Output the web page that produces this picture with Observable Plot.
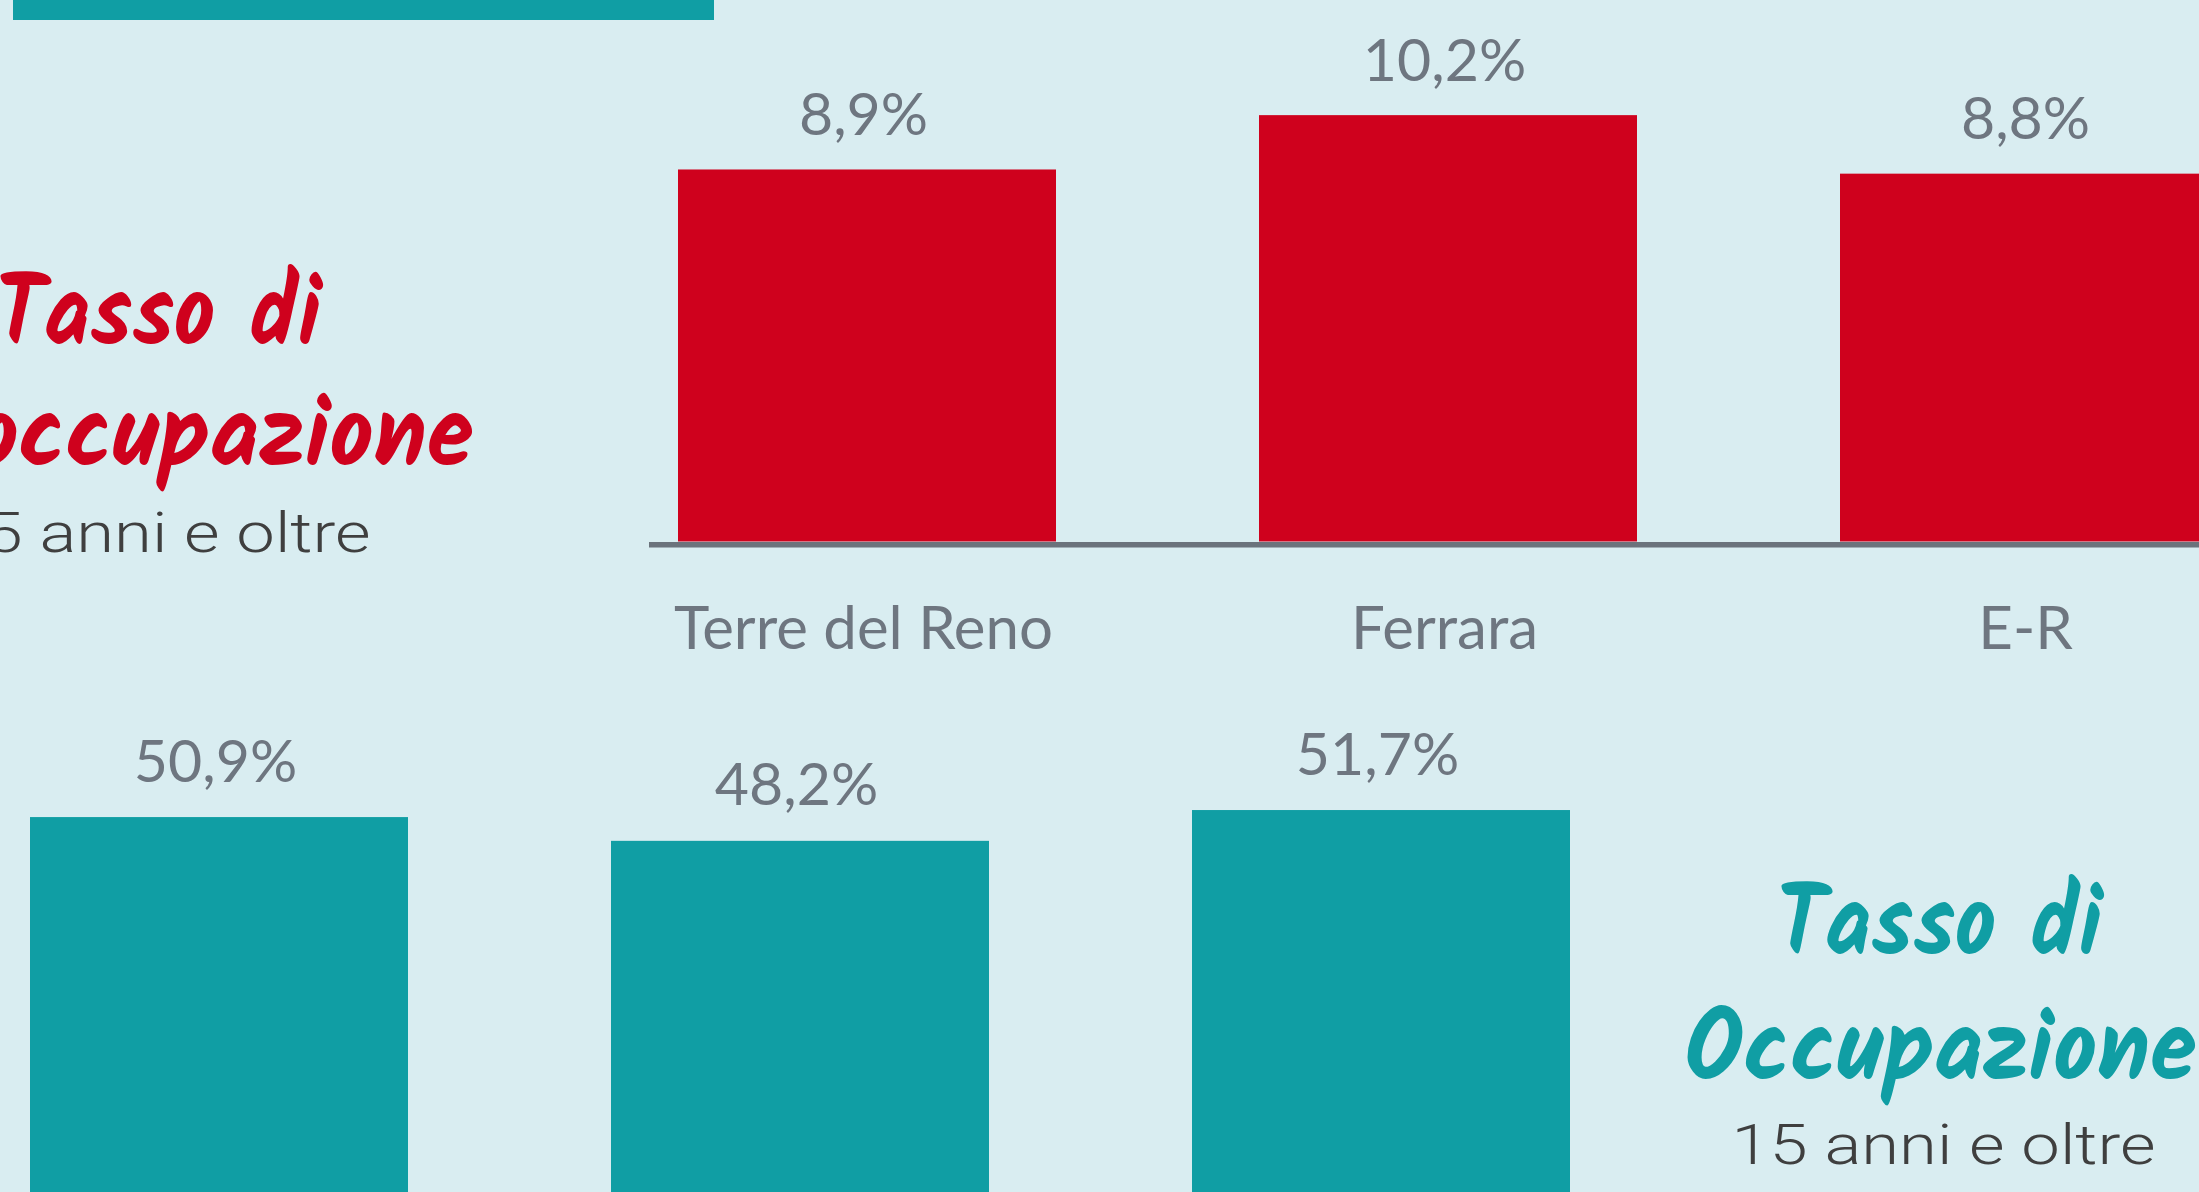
<!DOCTYPE html>
<html><head><meta charset="utf-8">
<script src="https://cdn.jsdelivr.net/npm/d3@7"></script>
<script src="https://cdn.jsdelivr.net/npm/@observablehq/plot@0.6"></script>
<style>
html,body{margin:0;padding:0;width:2199px;height:1192px;overflow:hidden;background:#d9edf1;}
#wrap{position:relative;width:2199px;height:1192px;overflow:hidden;background:#d9edf1;}
.layer{position:absolute;left:0;top:0;max-width:none !important;}
#topbar{position:absolute;left:13px;top:0;width:701px;height:20px;background:#109ea4;}
</style></head><body><div id="wrap"><div id="topbar"></div></div>
<script>
// ---- data ----
const categories = ["Terre del Reno", "Ferrara", "E-R"];
const disoccupazione = [8.9, 10.2, 8.8];
const occupazione = [50.9, 48.2, 51.7];
const titleTop = ["Tasso di", "Disoccupazione"];
const titleBottom = ["Tasso di", "Occupazione"];
const subtitle = "15 anni e oltre";

// ---- styles ----
const RED = "#cf011d", TEAL = "#109ea4", GRAY = "#6e7680", AXIS = "#6b737c", DARK = "#3f3f3f";
const fmt = v => v.toFixed(1).replace(".", ",") + "%";
const HAND = "'Kalam','Caveat Brush','Liberation Sans Narrow','DejaVu Sans Condensed',sans-serif";
const LABEL = "Lato, 'Open Sans', sans-serif";
const SUB = "Roboto, Lato, sans-serif";

const wrap = document.getElementById("wrap");
const rowsTop = categories.map((c, i) => ({cat: c, v: disoccupazione[i]}));
const rowsBot = categories.map((c, i) => ({cat: c, v: occupazione[i]}));

// Top chart: disoccupazione
const chartTop = Plot.plot({
  width: 2199, height: 700,
  marginLeft: 649, marginRight: 0, marginTop: 0, marginBottom: 0,
  style: {background: "transparent", overflow: "visible", maxWidth: "none"},
  x: {domain: categories, range: [474, 2422], padding: 0.35, axis: null},
  y: {domain: [0, 10], range: [541.5, 123.5], axis: null},
  marks: [
    Plot.barY(rowsTop, {x: "cat", y: "v", fill: RED}),
    Plot.ruleY([0], {stroke: AXIS, strokeWidth: 5.5, dy: 2.7}),
    Plot.text(rowsTop, {x: "cat", y: "v", text: d => fmt(d.v), lineAnchor: "bottom", dy: -35, dx: -4,
      fontSize: 59, fill: GRAY, fontFamily: LABEL}),
    Plot.text(rowsTop, {x: "cat", y: () => 0, text: "cat", lineAnchor: "bottom", dy: 106.5, dx: -4,
      fontSize: 60, fill: GRAY, fontFamily: LABEL})
  ]
});
chartTop.classList.add("layer");
wrap.appendChild(chartTop);

// Bottom chart: occupazione
const chartBot = Plot.plot({
  width: 2199, height: 1300,
  marginLeft: 0, marginRight: 0, marginTop: 0, marginBottom: 0,
  style: {background: "transparent", overflow: "visible", maxWidth: "none"},
  x: {domain: categories, range: [-174, 1774], padding: 0.35, axis: null},
  y: {domain: [0, 60], range: [1265, 737], axis: null},
  marks: [
    Plot.barY(rowsBot, {x: "cat", y: "v", fill: TEAL}),
    Plot.text(rowsBot, {x: "cat", y: "v", text: d => fmt(d.v), lineAnchor: "bottom", dy: -36, dx: -4,
      fontSize: 59, fill: GRAY, fontFamily: LABEL})
  ]
});
chartBot.classList.add("layer");
wrap.appendChild(chartBot);

// Titles overlay
const tline = (txt, cx, by, fill, size, family, weight) =>
  Plot.text([txt], {frameAnchor: "top-left", text: d => d, dx: cx, dy: by, textAnchor: "middle",
    lineAnchor: "bottom", fill, fontSize: size, fontFamily: family, fontWeight: weight});
const titles = Plot.plot({
  width: 2199, height: 1192, margin: 0,
  style: {background: "transparent", overflow: "visible", maxWidth: "none"},
  x: {axis: null}, y: {axis: null},
  marks: [
    tline(titleTop[0], 158, 344, RED, 100, HAND, "bold"),
    tline(titleTop[1], 157, 465, RED, 100, HAND, "bold"),
    tline(subtitle, 158, 551, DARK, 56, SUB, 300),
    tline(titleBottom[0], 1939, 954, TEAL, 100, HAND, "bold"),
    tline(titleBottom[1], 1940, 1079, TEAL, 100, HAND, "bold"),
    tline(subtitle, 1943, 1163, DARK, 56, SUB, 300)
  ]
});
titles.classList.add("layer");
wrap.appendChild(titles);
const lens = {"Tasso di": 326, "Disoccupazione": 632, "Occupazione": 512, "15 anni e oltre": 424};
d3.select(titles).selectAll("text").each(function() {
  const t = this.textContent;
  if (lens[t]) { this.setAttribute("textLength", lens[t]); this.setAttribute("lengthAdjust", "spacingAndGlyphs"); }
});
</script></body></html>
